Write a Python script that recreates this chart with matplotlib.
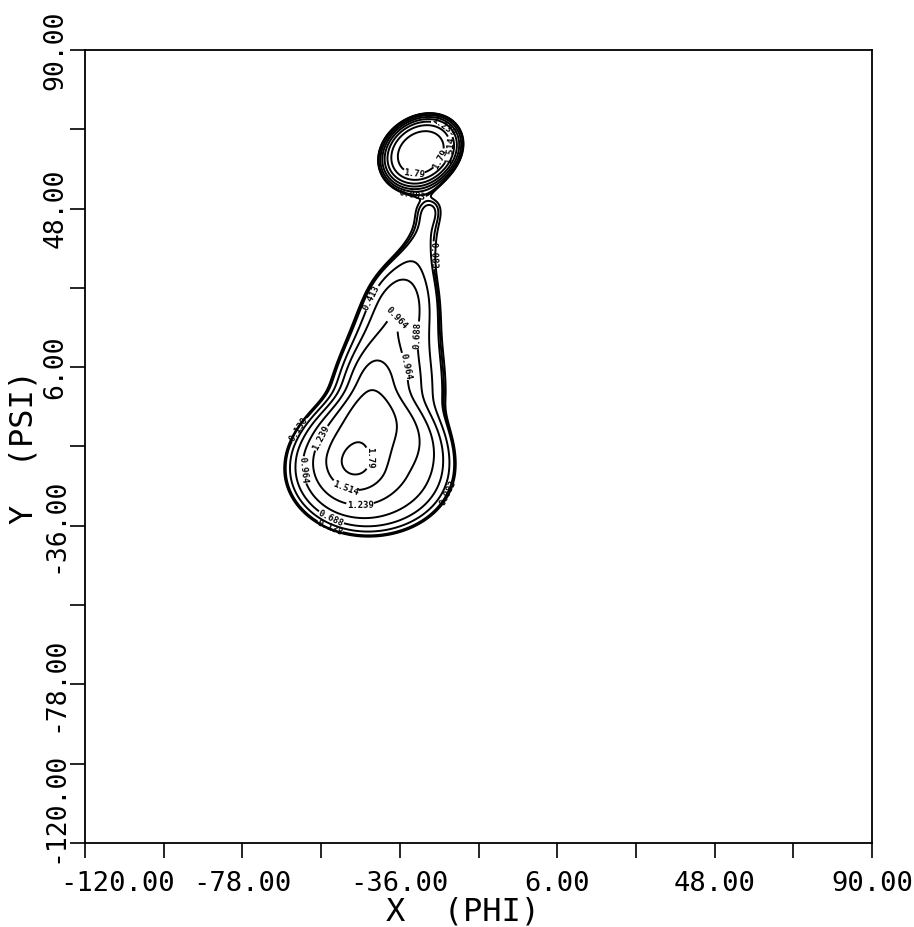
import numpy as np
import matplotlib.pyplot as plt
from matplotlib.transforms import ScaledTranslation

# contour levels
levels = [0.028, 0.083, 0.138, 0.413, 0.688, 0.964, 1.239, 1.514, 1.790]

# density made of a few lobes: centre, widths (left/right/down/up), tilt, height, shape power
lobe_x = [-48.0, -48.0, -44.0, -43.5, -38.5, -29.0, -30.0, -30.4, -29.0]
lobe_y = [-19.0, -19.0, -21.5, 1.0, 22.0, 42.0, 0.0, 63.0, 50.0]
lobe_sl = [4.0, 8.5, 20.0, 5.5, 6.0, 4.5, 6.0, 6.8, 7.0]
lobe_sr = [4.0, 9.0, 20.0, 6.5, 7.0, 6.0, 8.0, 6.8, 6.0]
lobe_sd = [4.0, 8.0, 15.5, 7.0, 12.0, 7.0, 14.0, 8.6, 4.5]
lobe_su = [4.0, 16.0, 17.0, 8.0, 10.0, 7.0, 22.0, 8.6, 4.5]
lobe_tilt = [0, 15, 0, 10, 22, 30, 0, 58, 0]
lobe_amp = [1.2, 3.0, 2.4, 2.4, 2.1, 0.7, 1.2, 7.0, 0.66]
lobe_pow = [1, 1, 3, 1, 1, 1, 1, 2, 1]

# where the contour values are written (phi, psi)
label_at = [(-33.3, 49.0), (-23.4, 35.7), (-44.0, 24.6), (-34.1, 19.8), (-32.5, 14.5),
            (-36.5, 5.8), (-62.6, -10.6), (-56.0, -13.3), (-61.3, -21.2), (-47.4, -18.1),
            (-50.6, -26.0), (-46.6, -30.5), (-54.6, -34.5), (-54.6, -36.3), (-17.3, -30.0),
            (-24.0, 70.1), (-29.3, 63.5), (-22.6, 63.5), (-32.0, 59.5)]

ticks = [-120, -78, -36, 6, 48, 90]
minor = [-99, -57, -15, 27, 69]

phi = np.linspace(-120, 90, 841)
psi = np.linspace(-120, 90, 841)
X, Y = np.meshgrid(phi, psi)

G = np.zeros_like(X)
for cx, cy, sl, sr, sd, su, t, a, p in zip(lobe_x, lobe_y, lobe_sl, lobe_sr, lobe_sd,
                                           lobe_su, lobe_tilt, lobe_amp, lobe_pow):
    th = np.radians(t)
    dx, dy = X - cx, Y - cy
    u = dx * np.sin(th) + dy * np.cos(th)   # along the lobe
    v = dx * np.cos(th) - dy * np.sin(th)   # across the lobe
    q = (u / np.where(u < 0, sd, su))**2 + (v / np.where(v < 0, sl, sr))**2
    G += a * np.exp(-0.5 * q**p)
Z = np.log(G + 1e-12)

mono = 'DejaVu Sans Mono'
fig = plt.figure(figsize=(9.14, 9.27), dpi=100)
ax = fig.add_axes([85/914, 84/927, 787/914, 793/927])

# outermost level has no label, so it gets its own call
ax.contour(X, Y, Z, levels=levels[:1], colors='black', linewidths=1.4)
cs = ax.contour(X, Y, Z, levels=levels[1:], colors='black', linewidths=1.4)
lab = ax.clabel(cs, inline=True, fontsize=6.5, inline_spacing=1,
                manual=label_at, fmt=lambda v: f'{v:.3f}'.rstrip('0'))
for t in lab:
    t.set_fontfamily(mono)
    t.set_fontweight('bold')

ax.set_xlim(-120, 90)
ax.set_ylim(-120, 90)
ax.set_xticks(ticks)
ax.set_yticks(ticks)
ax.set_xticks(minor, minor=True)
ax.set_yticks(minor, minor=True)
ax.set_xticklabels([f'{v:.2f}' for v in ticks], fontfamily=mono, fontsize=19.5)
ax.set_yticklabels([f'{v:.2f}' for v in ticks], fontfamily=mono, fontsize=19,
                   rotation=90, va='center')
ax.tick_params(which='both', direction='out', length=11, width=1.2, top=False, right=False)
ax.tick_params(axis='x', pad=9)
ax.tick_params(axis='y', pad=1)
for s in ax.spines.values():
    s.set_linewidth(1.3)

xl = ax.get_xticklabels()
xl[0].set_transform(xl[0].get_transform() + ScaledTranslation(0.33, 0, fig.dpi_scale_trans))
yl = ax.get_yticklabels()
yl[0].set_transform(yl[0].get_transform() + ScaledTranslation(0, 0.36, fig.dpi_scale_trans))

ax.set_xlabel('X  (PHI)', fontfamily=mono, fontsize=23, labelpad=0)
ax.xaxis.label.set_x(0.48)
ax.set_ylabel('Y  (PSI)', fontfamily=mono, fontsize=23, labelpad=2)

fig.savefig('out.png', dpi=100)
